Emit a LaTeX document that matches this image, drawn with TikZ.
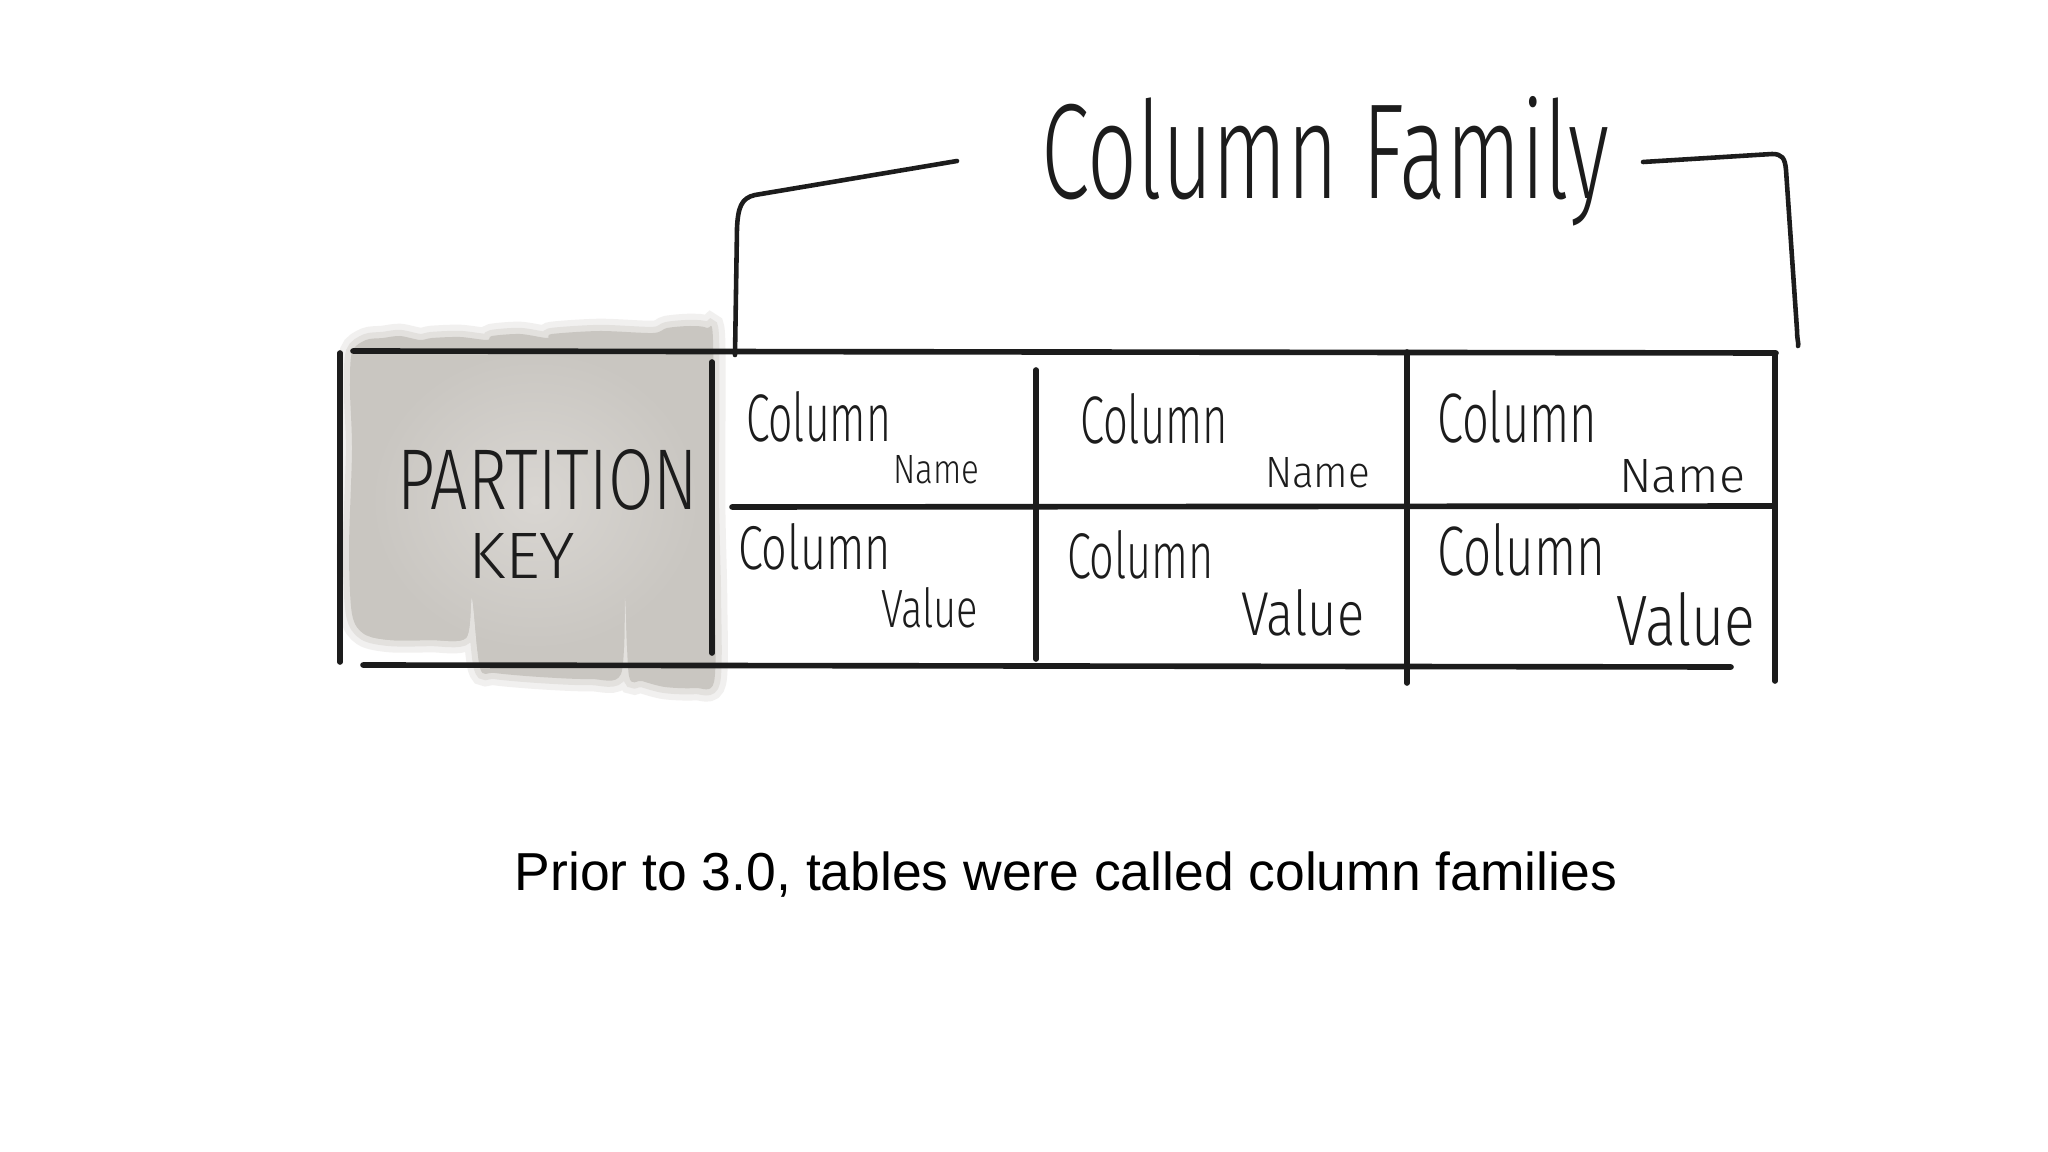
\documentclass[tikz,border=0pt]{standalone}
\usepackage{fontspec}
\usepackage{graphicx}
\newfontfamily\capfont{Liberation Sans}
\newfontfamily\handfont{Fira Sans Light}
\definecolor{ink}{RGB}{28,28,28}
\definecolor{wash}{RGB}{201,198,193}
\definecolor{washin}{RGB}{217,214,210}
\tikzset{
  hw/.style={inner sep=0pt, outer sep=0pt, text=ink, font=\handfont, anchor=base west},
  tline/.style={draw=ink, line width=1.6pt, line cap=round},
  bracket/.style={draw=ink, line width=1.3pt, line cap=round, line join=round},
}
\def\blobpath{plot[smooth cycle, tension=0.5] coordinates {
 (352,352) (366,340) (383,338) (400,336) (420,340) (432,338) (460,337) (487,340)
 (492,336) (520,334) (547,338) (552,334) (600,331) (653,333) (667,328)
 (690,326) (707,328) (713,340) (713,500) (715,600) (714,682) (695,688)
 (665,687) (642,681) (629,676) (625,596) (621,674) (590,679) (540,677) (495,673)
 (480,668) (472,598) (466,638) (430,640) (390,640) (364,634) (352,614)
 (349,550) (352,450) (350,390)}}
\begin{document}
\begin{tikzpicture}[x=0.01cm, y=-0.01cm]
\useasboundingbox (0,0) rectangle (2048,1152);
\fill[white] (0,0) rectangle (2048,1152);

% watercolor wash behind partition key
\draw[wash, opacity=0.25, line width=7pt] \blobpath;
\draw[wash, opacity=0.35, line width=3.5pt] \blobpath;
\begin{scope}
\clip \blobpath;
\fill[wash] (330,310) rectangle (730,700);
\shade[inner color=washin, outer color=wash] (370,350) rectangle (700,650);
\end{scope}

% table lines
\draw[tline] (340,353) -- (340,662);
\draw[tline] (353,351) -- (1776,353);
\draw[tline] (363,665) -- (1731,667);
\draw[tline] (712,362) -- (712,653);
\draw[tline] (732,507) -- (1775,506);
\draw[tline] (1036,370) -- (1036,659);
\draw[tline] (1407,352) -- (1407,683);
\draw[tline] (1775,354) -- (1775,681);

% brackets
\coordinate (lt) at (957,161);
\coordinate (lb) at (735,355);
\coordinate (rt) at (1643,162);
\coordinate (rb) at (1798,346);
\draw[bracket] (lt) -- (755,195) .. controls (741,198) and (738,208) .. (737,228) -- (lb);
\draw[bracket] (rt) -- (1772,154) .. controls (1782,154) and (1785,158) .. (1786,170) -- (1797,330) .. controls (1797,340) and (1799,344) .. (rb);

% title
\node[hw] (cf) at (1041,199) {\resizebox{5.68cm}{1.02cm}{Column Family}};

% partition key
\node[hw] (pk1) at (397,510) {\resizebox{3.01cm}{0.60cm}{PARTITION}};
\node[hw] (pk2) at (468,578) {\resizebox{1.07cm}{0.45cm}{KEY}};

% row 1
\node[hw] (c11) at (746,442) {\resizebox{1.45cm}{0.50cm}{Column}};
\node[hw] (n11) at (893,484) {\resizebox{0.86cm}{0.28cm}{Name}};
\node[hw] (c12) at (1080,443) {\resizebox{1.48cm}{0.50cm}{Column}};
\node[hw] (n12) at (1265,488) {\resizebox{1.05cm}{0.30cm}{Name}};
\node[hw] (c13) at (1437,443) {\resizebox{1.60cm}{0.52cm}{Column}};
\node[hw] (n13) at (1619,492) {\resizebox{1.26cm}{0.33cm}{Name}};

% row 2
\node[hw] (c21) at (738,570) {\resizebox{1.53cm}{0.46cm}{Column}};
\node[hw] (v21) at (881,628) {\resizebox{0.97cm}{0.40cm}{Value}};
\node[hw] (c22) at (1067,578) {\resizebox{1.47cm}{0.48cm}{Column}};
\node[hw] (v22) at (1241,636) {\resizebox{1.23cm}{0.46cm}{Value}};
\node[hw] (c23) at (1437,576) {\resizebox{1.68cm}{0.52cm}{Column}};
\node[hw] (v23) at (1616,645) {\resizebox{1.39cm}{0.53cm}{Value}};

% caption
\node[inner sep=0pt, anchor=base, text=black, font=\capfont\fontsize{15.2pt}{18pt}\selectfont] (cap) at (1066,890) {Prior to 3.0, tables were called column families};
\end{tikzpicture}
\end{document}
